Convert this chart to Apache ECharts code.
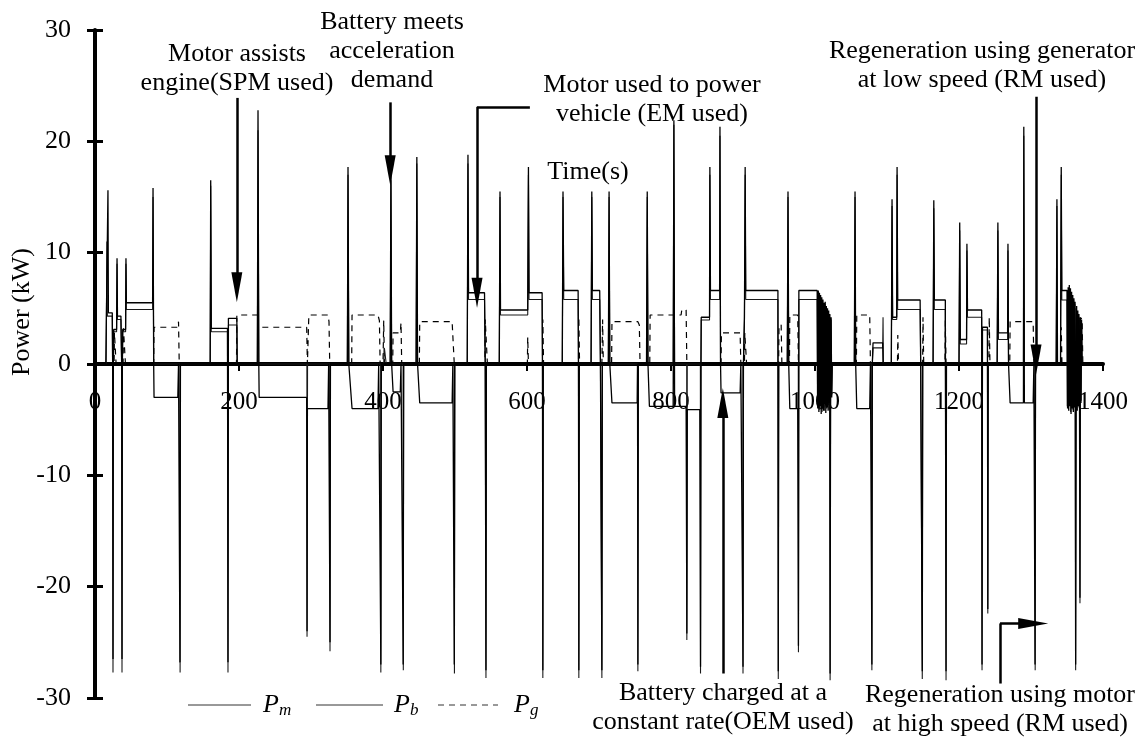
<!DOCTYPE html>
<html>
<head>
<meta charset="utf-8">
<script src="https://cdn.jsdelivr.net/npm/echarts@6/dist/echarts.min.js"></script>
<style>
  html, body { margin: 0; padding: 0; background: #fff; }
  #chart { width: 1148px; height: 744px; }
</style>
</head>
<body>
<div id="chart"></div>
<script>
// Axis ticks
const timeTicks = [0, 200, 400, 600, 800, 1000, 1200, 1400];
const powerTicks = [-30, -20, -10, 0, 10, 20, 30];

// Motor power P_m, [time s, kW]
const motorPower = [
  [0,0],[15.5,0],[16.5,11],[17.2,4.3],[24,4.3],[24.4,0],[25,-27.7],[25.6,0],[26,2.9],[30,2.9],[30.6,9],[31.2,4.0],[36,4.0],[37,0],[37.5,-27.7],[38.1,0],[38.5,2.9],[42.5,2.9],[43,9],[43.6,4.9],[80,4.9],[80.6,15],[81.5,0],[118,0],[118.2,-27.7],[118.8,0],
  [160,0],[160.7,16],[161.5,2.9],[184,2.9],[184.7,-27.7],[185.3,3.5],[197,3.5],[197.5,0],
  [225.5,0],[226.4,21],[227.5,0],[294.3,0],[294.5,-24.5],[295.2,0],[326,0],[326.4,-25.8],[327,0],
  [350.5,0],[351.4,17],[352.5,0],[396.8,0],[397,-27.7],[397.6,0],[401,0],[402,1.4],[404,1.4],[404.5,0],
  [410,0],[411,16.5],[412,0],[428,0],[428.2,-27.5],[428.8,0],
  [446,0],[447,18],[448,0],[499,0],[499.2,-27.8],[499.8,0],
  [517,0],[518,18],[518.8,5.8],[541,5.8],[542,0],[543,-28.2],[543.6,0],
  [561.5,0],[562.5,15],[563.2,4.4],[601,4.4],[602,17],[602.8,5.8],[621,5.8],[621.5,0],[622,-28.2],[622.6,0],
  [649,0],[650,15],[651,5.8],[671,5.8],[671.5,0],[672,-28.2],[672.6,0],
  [689,0],[690,15],[690.8,5.8],[701,5.8],[702,0],[704,-28.2],[704.6,0],
  [713,0],[714,15],[715,0],[753.8,0],[754,-27.6],[754.6,0],
  [766,0],[767,15],[768,0],[803,0],[804,21.5],[805,0],[821.8,0],[822,-24.8],[822.6,0],[840.8,0],[841,-27.8],[841.6,0],[842,3.95],[853.5,3.95],[854,17],[854.8,5.8],[867.5,5.8],[868,20.5],[868.8,0],[899.8,0],[900,-27.8],[900.6,0],[902,4.0],[903,17],[903.8,5.8],[948.5,5.8],[949,-28.3],[949.6,0],
  [961.5,0],[962.5,15],[963.5,0],[976.8,0],[977,-25.9],[977.6,5.8],[1003,5.8],
  [1003.4,-3.6],[1004.2,5.8],[1005,-3.9],[1005.8,5.6],[1006.6,-4.1],[1007.4,5.9],[1008.2,-3.7],[1009,5.5],[1009.8,-4.3],[1010.6,5.7],[1011.4,-3.8],[1012.2,5.3],[1013,-4.2],[1013.8,5.4],[1014.6,-3.6],[1015.4,5],[1016.2,-4],[1017,4.9],[1017.8,-3.7],[1018.6,4.6],[1019.4,-4.1],[1020.2,4.4],[1021,-28.4],[1021.6,-3.4],[1022.4,4],[1023.2,-2.8],[1024,0],
  [1054.6,0],[1055.6,15],[1056.5,0],[1078.8,0],[1079,-27.5],[1079.6,0],[1080.6,1.45],[1094,1.45],[1094.5,4.2],[1095,0],
  [1106,0],[1107,14.2],[1107.8,4.0],[1113.5,4.0],[1114,17],[1114.8,4.9],[1146,4.9],[1146.8,0],[1149,-28.3],[1149.6,0],
  [1164,0],[1165,14],[1165.8,4.9],[1181,4.9],[1182,-28.4],[1182.6,0],
  [1200,0],[1201,12],[1201.8,1.8],[1210.5,1.8],[1211,10.2],[1211.8,4.2],[1231.5,4.2],[1232,-27.5],[1232.6,3.05],[1239.5,3.05],[1240,-22.4],[1240.6,0],
  [1253,0],[1254,12],[1254.8,2.2],[1267.5,2.2],[1268,10.2],[1268.8,0],[1289.5,0],[1290,20.5],[1290.8,0],[1305.6,0],[1305.8,-27.5],[1306.4,0],
  [1335,0],[1336,14.2],[1336.8,0],[1341,0],[1342,17],[1342.8,5.75],[1350,5.75],
  [1350.4,-3.8],[1351.2,6.5],[1352,-4],[1352.8,6.8],[1353.6,-3.6],[1354.4,6.6],[1355.2,-4.3],[1356,6.2],[1356.8,-3.9],[1357.6,6],[1358.4,-4.1],[1359.2,5.7],[1360,-3.7],[1360.8,5.4],[1361.6,-4],[1362,-27.5],[1362.8,5],[1363.6,-4.1],[1364.4,4.6],[1365.2,-3.6],[1366,4.3],[1366.8,-3.9],[1367.6,4.1],[1368,-21.5],[1368.8,3.8],[1369.6,-3.3],[1370.4,3.6],[1371,0],[1400,0]
];

// Battery power P_b, [time s, kW]
const batteryPower = [
  [0,0],[15,0],[18,15.6],[18.6,4.6],[24,4.6],[24.5,0],[25,-26.5],[25.5,0],[26,3.1],[30,3.1],[30.6,9.5],[31.2,4.3],[36,4.3],[37,0],[37.5,-26.5],[38,0],[38.5,3.1],[42.5,3.1],[43,9.5],[43.6,5.5],[80,5.5],[80.6,15.8],[81.5,0],[82,-3.0],[115,-3.0],[116,0],[118,-26.8],[118.6,0],
  [160,0],[160.7,16.5],[161.5,3.2],[184,3.2],[184.7,-26.8],[185.3,4.1],[197,4.1],[197.5,0],
  [225.5,0],[226.4,22.8],[227.5,0],[228,-3.0],[294,-3.0],[294.5,-24],[295,-4.0],[323.6,-4.0],[324.5,0],[326.4,-25],[327,0],
  [350.5,0],[351.4,17.7],[352.5,0],[357,-4.0],[393,-4.0],[394,0],[397,-27],[397.6,0],
  [410,0],[411,17.4],[412,0],[414,-2.5],[424,-2.5],[425,0],[428,-27],[428.6,0],
  [446,0],[447,18.6],[448,0],[451,-3.5],[496,-3.5],[497,0],[499,-27],[499.6,0],
  [517,0],[518,18.8],[518.8,6.4],[541,6.4],[542,0],[543,-27.5],[543.6,0],
  [561.5,0],[562.5,15.5],[563.2,4.85],[601,4.85],[602,17.7],[602.8,6.4],[621,6.4],[621.5,0],[622,-27.5],[622.6,0],
  [649,0],[650,15.5],[651,6.6],[671,6.6],[671.5,0],[672,-27.5],[672.6,0],
  [689,0],[690,15.5],[690.8,6.6],[701,6.6],[702,0],[704,-27.5],[704.6,0],
  [713,0],[714,15.5],[715,0],[718,-3.5],[753,-3.5],[753.5,0],[754,-27],[754.6,0],
  [766,0],[767,15.5],[768,0],[770,-3.8],[803,-3.8],[804,21.9],[805,-3.8],[821,-3.8],[822,-24.2],[822.6,-4.1],[840,-4.1],[841,-27.2],[841.6,0],[842,4.2],[853.5,4.2],[854,17.7],[854.8,6.6],[867.5,6.6],[868,21.3],[868.8,0],[869.5,-2.6],[896,-2.6],[897,0],[900,-27.2],[900.6,0],[902,4.2],[903,17.7],[903.8,6.6],[948.5,6.6],[949,-27.6],[949.6,0],
  [961.5,0],[962.5,15.5],[963.5,0],[965,-4.0],[976,-4.0],[977,-25.3],[977.6,6.6],[1003,6.6],
  [1003.8,-4],[1004.6,6.6],[1005.4,-4.3],[1006.2,6.4],[1007,-3.8],[1007.8,6.2],[1008.6,-4.5],[1009.4,6],[1010.2,-4],[1011,5.8],[1011.8,-4.2],[1012.6,5.5],[1013.4,-3.6],[1014.2,5.6],[1015,-4.4],[1015.8,5.2],[1016.6,-3.9],[1017.4,5],[1018.2,-4.2],[1019,4.8],[1019.8,-3.5],[1020.6,4.5],[1021,-27.8],[1021.6,-3.8],[1022.4,4.2],[1023.2,-3],[1024,0],
  [1054.6,0],[1055.6,15.5],[1056.5,0],[1058,-4.0],[1076,-4.0],[1077,0],[1079,-27],[1079.6,0],[1080.6,1.9],[1094,1.9],[1094.5,0],
  [1106,0],[1107,14.8],[1107.8,4.2],[1113.5,4.2],[1114,17.7],[1114.8,5.75],[1146,5.75],[1146.8,0],[1149,-27.6],[1149.6,0],
  [1164,0],[1165,14.7],[1165.8,5.75],[1181,5.75],[1182,-27.6],[1182.6,0],
  [1200,0],[1201,12.7],[1201.8,2.2],[1210.5,2.2],[1211,10.8],[1211.8,4.85],[1231.5,4.85],[1232,-27],[1232.6,3.3],[1239.5,3.3],[1240,-22],[1240.6,0],
  [1253,0],[1254,12.7],[1254.8,2.8],[1267.5,2.8],[1268,10.8],[1268.8,0],[1271,-3.5],[1289.5,-3.5],[1290,21.3],[1290.8,-3.5],[1303,-3.5],[1304,0],[1305.6,-27],[1306.2,0],
  [1335,0],[1336,14.8],[1336.8,0],[1341,0],[1342,17.7],[1342.8,6.6],[1350,6.6],
  [1350.8,-4],[1351.6,6.9],[1352.4,-4.2],[1353.2,7.1],[1354,-3.8],[1354.8,6.8],[1355.6,-4.5],[1356.4,6.5],[1357.2,-4],[1358,6.2],[1358.8,-4.3],[1359.6,5.9],[1360.4,-3.9],[1361.2,5.6],[1362,-27],[1362.6,-4],[1363.4,5.2],[1364.2,-4.2],[1365,4.8],[1365.8,-3.8],[1366.6,4.5],[1367.4,-4],[1368,-21],[1368.6,4.2],[1369.4,-3.5],[1370.2,4],[1371,0],[1400,0]
];

// Generator power P_g, [time s, kW]
const generatorPower = [
  [0,0],[26.5,0],[27,2.8],[29,2.8],[29.3,0],[39,0],[39.5,3.2],[42,3.2],[42.3,0],
  [81.5,0],[82,3.3],[115,3.3],[116,3.8],[117,0],
  [196.5,0],[197,4.4],[226.5,4.4],[227,3.3],[294,3.3],[295,0],[296.5,0],[297,4.4],[323.6,4.4],[325,3.8],[326,0],
  [356.5,0],[357,4.4],[393,4.4],[395,3.9],[396,0],[400,0],[401,3.9],[402,0],
  [413.5,0],[414,2.8],[424,2.8],[425,3.7],[426,0],
  [450.5,0],[451,3.8],[496,3.8],[498,3.8],[499,0],[541.5,0],[542,4.0],[544,4.0],[545,0],
  [600.5,0],[601,2.4],[602,0],[621.5,0],[622,4.0],[623,0],[671.5,0],[672,4.2],[673,0],[704,0],[705,4.0],[706,0],
  [717.5,0],[718,3.8],[754,3.8],[756,3.5],[757,0],
  [770.5,0],[771,4.4],[814,4.4],[815,4.85],[821,4.85],[822,0],[869.5,0],[870,2.8],[896,2.8],[897,0],
  [902,0],[902.5,2.8],[904,2.8],[905,0],[949.5,0],[950,3.5],[953,3.5],[954,0],
  [964.5,0],[965,4.4],[976,4.4],[977,0],[1057.5,0],[1058,4.4],[1076,4.4],[1077,0],
  [1114.5,0],[1115,2.6],[1116,0],[1149.5,0],[1150,4.2],[1151,0],[1180.5,0],[1181,3.9],[1182,0],[1241.5,0],[1242,4.2],[1243,0],
  [1270.5,0],[1271,3.8],[1303,3.8],[1304,0],[1341.5,0],[1342,3.3],[1343,0],[1365.5,0],[1366,4.1],[1371,4.1],[1372,0],[1400,0]
];

// Annotation arrows in data coordinates: [time, kW]
const arrowLegs = [
  { from: [197, 23.9], to: [197, 6.9], head: true },
  { from: [410, 23.5], to: [410, 17.4], head: true },
  { from: [604, 23.1], to: [530.6, 23.1], head: false },
  { from: [530.6, 23.1], to: [530.6, 6.4], head: true },
  { from: [1307, 24.0], to: [1307, 0.4], head: true },
  { from: [872, -27.8], to: [872, -3.5], head: true },
  { from: [1257, -28.7], to: [1257, -23.3], head: false },
  { from: [1257, -23.3], to: [1303, -23.3], head: true }
];

const notes = [
  { text: 'Motor assists\nengine(SPM used)', x: 237, y: 69 },
  { text: 'Battery meets\nacceleration\ndemand', x: 392, y: 51 },
  { text: 'Motor used to power\nvehicle (EM used)', x: 652, y: 100 },
  { text: 'Regeneration using generator\nat low speed (RM used)', x: 982, y: 66 },
  { text: 'Battery charged at a\nconstant rate(OEM used)', x: 723, y: 708 },
  { text: 'Regeneration using motor\nat high speed (RM used)', x: 1000, y: 710 },
  { text: 'Time(s)', x: 588, y: 172 }
];

// Key entries: symbol name, subscript, line dash
const keyItems = [
  { sub: 'm', x1: 188, x2: 251, tx: 257, dash: null },
  { sub: 'b', x1: 316, x2: 383, tx: 388, dash: null },
  { sub: 'g', x1: 438, x2: 498, tx: 508, dash: [6, 5] }
];

const FONT = '"Liberation Serif", "Times New Roman", serif';
const chart = echarts.init(document.getElementById('chart'), null, { renderer: 'canvas' });

const lineSeries = (name, data, extra) => Object.assign({
  name, type: 'line', data,
  symbol: 'none', showSymbol: false,
  animation: false, clip: true,
  lineStyle: { color: '#000', width: 1 },
  itemStyle: { color: '#000' },
  emphasis: { disabled: true }
}, extra);

const tickStep = timeTicks[1] - timeTicks[0];
const powerStep = powerTicks[1] - powerTicks[0];
const gridTop = 30, gridBottom = 46, plotHeight = 744 - gridTop - gridBottom;
const yMin = powerTicks[0], yMax = powerTicks[powerTicks.length - 1];
// the time axis sits on the zero-power line
const zeroOffset = -plotHeight * (0 - yMin) / (yMax - yMin);

const keyGraphics = [];
keyItems.forEach(k => {
  keyGraphics.push({
    type: 'line', shape: { x1: k.x1, y1: 705, x2: k.x2, y2: 705 },
    style: { stroke: '#333', lineWidth: 1, lineDash: k.dash }
  });
  keyGraphics.push({
    type: 'text', x: k.tx, y: 705,
    style: {
      text: '{p|P}{s|' + k.sub + '}', x: 0, y: 0, align: 'left', verticalAlign: 'middle',
      rich: {
        p: { fontFamily: FONT, fontStyle: 'italic', fontSize: 26, fill: '#000', padding: [0, 0, 0, 6] },
        s: { fontFamily: FONT, fontStyle: 'italic', fontSize: 17, fill: '#000', padding: [12, 0, 0, 0] }
      }
    }
  });
});

chart.setOption({
  animation: false,
  backgroundColor: '#fff',
  grid: { left: 95, right: 45, top: gridTop, bottom: gridBottom, containLabel: false, outerBoundsMode: 'none' },
  xAxis: {
    type: 'value', position: 'bottom', offset: zeroOffset,
    min: timeTicks[0], max: timeTicks[timeTicks.length - 1], interval: tickStep,
    axisLine: { show: true, onZero: false, lineStyle: { color: '#000', width: 4 } },
    axisTick: { show: true, length: 7, lineStyle: { color: '#000', width: 2 } },
    axisLabel: { color: '#000', fontFamily: FONT, fontSize: 25, margin: 26, showMinLabel: true, showMaxLabel: true,
      formatter: v => String(v) },
    splitLine: { show: false }
  },
  yAxis: [
    {
      type: 'value',
      min: yMin, max: yMax, interval: powerStep,
      axisLine: { show: true, lineStyle: { color: '#000', width: 4 } },
      axisTick: { show: true, length: 8, lineStyle: { color: '#000', width: 3 } },
      axisLabel: { color: '#000', fontFamily: FONT, fontSize: 26, margin: 24, formatter: v => String(v) },
      splitLine: { show: false }
    },
    {
      type: 'value', position: 'left',
      min: yMin, max: yMax, interval: powerStep,
      axisLine: { show: false },
      axisTick: { show: true, inside: true, length: 8, lineStyle: { color: '#000', width: 3 } },
      axisLabel: { show: false },
      splitLine: { show: false }
    }
  ],
  series: [
    lineSeries('P_g', generatorPower, { lineStyle: { color: '#000', width: 1.2, type: [6, 5] }, z: 2 }),
    lineSeries('P_m', motorPower, { lineStyle: { color: '#1a1a1a', width: 1.1 }, z: 3 }),
    lineSeries('P_b', batteryPower, {
      z: 4,
      lineStyle: { color: '#000', width: 1.3 },
      markLine: {
        silent: true, animation: false,
        symbol: ['none', 'triangle'], symbolSize: [11, 30],
        lineStyle: { color: '#000', width: 2.5, type: 'solid' },
        label: { show: false },
        emphasis: { disabled: true },
        data: arrowLegs.map(a => [
          { coord: a.from, symbol: 'none' },
          { coord: a.to, symbol: a.head ? 'triangle' : 'none' }
        ])
      }
    })
  ],
  graphic: [
    {
      type: 'text', x: 22, y: 312, rotation: Math.PI / 2,
      style: { text: 'Power (kW)', x: 0, y: 0, align: 'center', verticalAlign: 'middle', font: '26px ' + FONT, fill: '#000' }
    }
  ].concat(notes.map(n => ({
    type: 'text', x: n.x, y: n.y,
    style: { text: n.text, x: 0, y: 0, align: 'center', verticalAlign: 'middle', font: '26px ' + FONT, lineHeight: 29, fill: '#000' }
  }))).concat(keyGraphics)
});
</script>
</body>
</html>
